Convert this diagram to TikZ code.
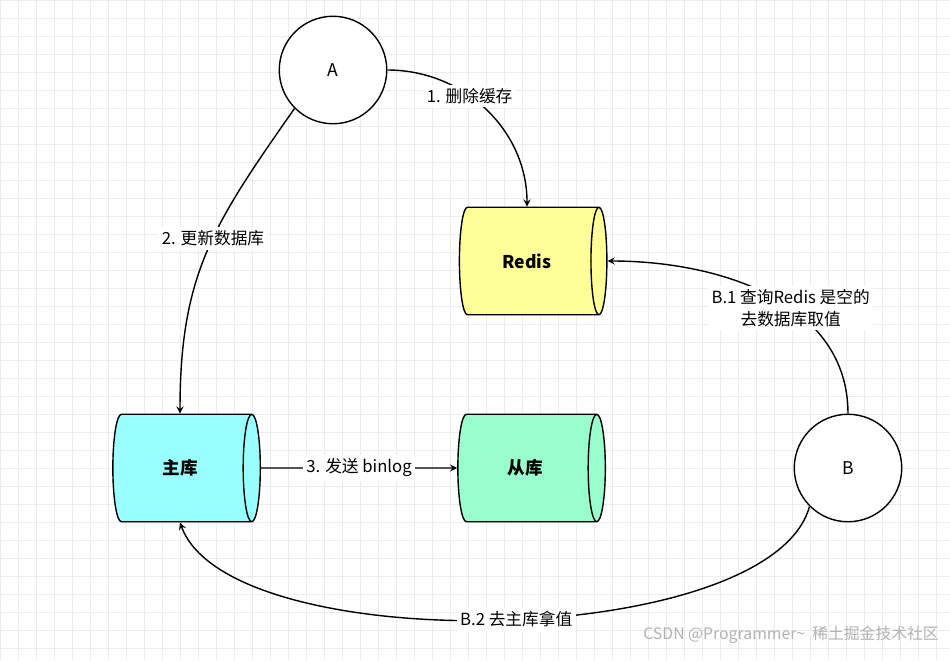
\documentclass[tikz,border=0pt]{standalone}
\usepackage{fontspec}
\setmainfont{Noto Sans CJK SC}
\usetikzlibrary{shapes.geometric, arrows, positioning}
\definecolor{redisyellow}{RGB}{255, 255, 153}
\definecolor{mastercyan}{RGB}{153, 255, 255}
\definecolor{slavegreen}{RGB}{153, 255, 204}
\definecolor{gridgray}{RGB}{236, 236, 236}
\tikzstyle{client} = [circle, minimum size=2.15cm, draw=black, thick, fill=white, font=\fontsize{10}{12}\selectfont]
\tikzstyle{db} = [cylinder, shape aspect=0.6, minimum width=2.15cm, minimum height=2.95cm, draw=black, thick, font=\bfseries\fontsize{10}{12}\selectfont]
\tikzstyle{arrow} = [thick,->,>=stealth]
\tikzstyle{lbl} = [font=\fontsize{9.5}{12}\selectfont, fill=white, inner sep=2pt]

\begin{document}
\begin{tikzpicture}[x=0.02cm, y=-0.02cm]
\useasboundingbox (0,0) rectangle (950,660);
\fill[white] (0,0) rectangle (950,660);
% grid
\foreach \gx in {0,18,...,950} \draw[gridgray] (\gx,0) -- (\gx,660);
\foreach \gy in {0,18,...,660} \draw[gridgray] (0,\gy) -- (950,\gy);

\node (a) [client] at (333,70) {A};
\node (b) [client] at (848,468) {B};
\node (redis) [db, fill=redisyellow] at (527,261) {Redis};
\node (master) [db, fill=mastercyan] at (180,468) {主库};
\node (slave) [db, fill=slavegreen] at (525,468) {从库};

% Arrows
\draw [arrow] (a.east) to[out=0, in=90] node[lbl, pos=0.4] {1. 删除缓存} (redis.north);
\draw [arrow] (a.south west) to[out=235, in=90, looseness=1.1] node[lbl, pos=0.45] {2. 更新数据库} (master.north);
\draw [arrow] (master.east) -- node[lbl] {3. 发送 binlog} (slave.west);
\draw [arrow] (b.north) to[out=90, in=0] node[lbl, pos=0.42, align=center] {B.1 查询Redis 是空的\\去数据库取值} (redis.east);
\draw [arrow] (b.south west) .. controls (770,650) and (230,660) .. node[lbl, pos=0.48] {B.2 去主库拿值} (master.south);

\node (mark) [text=gray!60, font=\fontsize{9}{11}\selectfont, anchor=south east] at (945,650) {CSDN @Programmer\textasciitilde\ \ 稀土掘金技术社区};
\end{tikzpicture}
\end{document}
